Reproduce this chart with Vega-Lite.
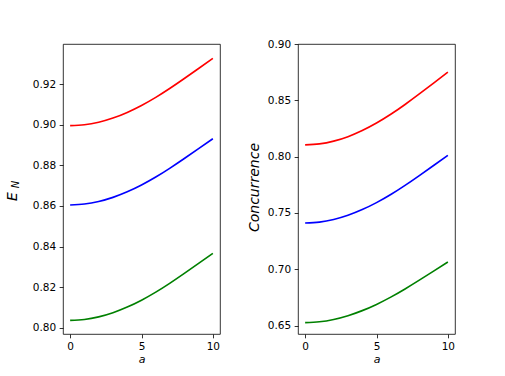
{
  "$schema": "https://vega.github.io/schema/vega-lite/v6.json",
  "autosize": {"type": "pad"},
  "padding": {"left": 4, "top": 38, "right": 5, "bottom": 5},
  "background": "white",
  "bounds": "flush",
  "spacing": 78,
  "config": {
    "font": "DejaVu Sans",
    "view": {"stroke": "#000000", "strokeWidth": 0.8},
    "axis": {
      "domain": false,
      "grid": false,
      "tickColor": "#000000",
      "tickSize": 3.85,
      "tickWidth": 0.8,
      "labelColor": "#000000",
      "labelFont": "DejaVu Sans",
      "labelFontSize": 10.5,
      "labelPadding": 3.5,
      "titleFont": "DejaVu Sans",
      "titleFontWeight": "normal",
      "titleColor": "#000000"
    }
  },
  "datasets": {
    "en": [
      {"a": 0, "series": "s1", "value": 0.89950}, {"a": 1, "series": "s1", "value": 0.89996}, {"a": 2, "series": "s1", "value": 0.90122}, {"a": 3, "series": "s1", "value": 0.90327}, {"a": 4, "series": "s1", "value": 0.90605}, {"a": 5, "series": "s1", "value": 0.90946}, {"a": 6, "series": "s1", "value": 0.91344}, {"a": 7, "series": "s1", "value": 0.91790}, {"a": 8, "series": "s1", "value": 0.92270}, {"a": 9, "series": "s1", "value": 0.92764}, {"a": 10, "series": "s1", "value": 0.93260},
      {"a": 0, "series": "s2", "value": 0.86050}, {"a": 1, "series": "s2", "value": 0.86096}, {"a": 2, "series": "s2", "value": 0.86220}, {"a": 3, "series": "s2", "value": 0.86422}, {"a": 4, "series": "s2", "value": 0.86695}, {"a": 5, "series": "s2", "value": 0.87031}, {"a": 6, "series": "s2", "value": 0.87422}, {"a": 7, "series": "s2", "value": 0.87863}, {"a": 8, "series": "s2", "value": 0.88335}, {"a": 9, "series": "s2", "value": 0.88821}, {"a": 10, "series": "s2", "value": 0.89310},
      {"a": 0, "series": "s3", "value": 0.80370}, {"a": 1, "series": "s3", "value": 0.80416}, {"a": 2, "series": "s3", "value": 0.80542}, {"a": 3, "series": "s3", "value": 0.80746}, {"a": 4, "series": "s3", "value": 0.81023}, {"a": 5, "series": "s3", "value": 0.81363}, {"a": 6, "series": "s3", "value": 0.81759}, {"a": 7, "series": "s3", "value": 0.82205}, {"a": 8, "series": "s3", "value": 0.82683}, {"a": 9, "series": "s3", "value": 0.83175}, {"a": 10, "series": "s3", "value": 0.83670}
    ],
    "conc": [
      {"a": 0, "series": "s1", "value": 0.81040}, {"a": 1, "series": "s1", "value": 0.81130}, {"a": 2, "series": "s1", "value": 0.81376}, {"a": 3, "series": "s1", "value": 0.81776}, {"a": 4, "series": "s1", "value": 0.82319}, {"a": 5, "series": "s1", "value": 0.82984}, {"a": 6, "series": "s1", "value": 0.83760}, {"a": 7, "series": "s1", "value": 0.84632}, {"a": 8, "series": "s1", "value": 0.85568}, {"a": 9, "series": "s1", "value": 0.86531}, {"a": 10, "series": "s1", "value": 0.87500},
      {"a": 0, "series": "s2", "value": 0.74110}, {"a": 1, "series": "s2", "value": 0.74194}, {"a": 2, "series": "s2", "value": 0.74423}, {"a": 3, "series": "s2", "value": 0.74795}, {"a": 4, "series": "s2", "value": 0.75300}, {"a": 5, "series": "s2", "value": 0.75919}, {"a": 6, "series": "s2", "value": 0.76640}, {"a": 7, "series": "s2", "value": 0.77452}, {"a": 8, "series": "s2", "value": 0.78323}, {"a": 9, "series": "s2", "value": 0.79219}, {"a": 10, "series": "s2", "value": 0.80120},
      {"a": 0, "series": "s3", "value": 0.65270}, {"a": 1, "series": "s3", "value": 0.65345}, {"a": 2, "series": "s3", "value": 0.65550}, {"a": 3, "series": "s3", "value": 0.65883}, {"a": 4, "series": "s3", "value": 0.66335}, {"a": 5, "series": "s3", "value": 0.66889}, {"a": 6, "series": "s3", "value": 0.67535}, {"a": 7, "series": "s3", "value": 0.68261}, {"a": 8, "series": "s3", "value": 0.69041}, {"a": 9, "series": "s3", "value": 0.69843}, {"a": 10, "series": "s3", "value": 0.70650}
    ]
  },
  "hconcat": [
    {
      "width": 157,
      "height": 290,
      "data": {"name": "en"},
      "layer": [
        {
          "mark": {"type": "line", "strokeWidth": 1.65, "interpolate": "natural"},
          "encoding": {
            "x": {"field": "a", "type": "quantitative", "scale": {"domain": [-0.5, 10.5], "nice": false, "zero": false}, "axis": {"values": [0, 5, 10], "title": "a", "titleFontStyle": "italic", "titleFontSize": 11, "titlePadding": 2}},
            "y": {"field": "value", "type": "quantitative", "scale": {"domain": [0.797, 0.9397], "nice": false, "zero": false}, "axis": {"values": [0.80, 0.82, 0.84, 0.86, 0.88, 0.90, 0.92], "format": ".2f", "title": "E", "titleFontStyle": "italic", "titleFontSize": 14, "titleBaseline": "alphabetic", "titleX": -47, "titleY": 152}},
            "color": {"field": "series", "type": "nominal", "scale": {"domain": ["s1", "s2", "s3"], "range": ["#ff0000", "#0000ff", "#008000"]}, "legend": null}
          }
        },
        {
          "mark": {"type": "rule", "opacity": 0},
          "encoding": {
            "y": {"datum": 0.86, "type": "quantitative", "scale": {"domain": [0.797, 0.9397], "nice": false, "zero": false}, "axis": {"orient": "left", "labels": false, "ticks": false, "domain": false, "title": "N", "titleFontStyle": "italic", "titleFontSize": 10, "titleBaseline": "alphabetic", "titleX": -45, "titleY": 140}}
          }
        }
      ],
      "resolve": {"scale": {"y": "independent"}}
    },
    {
      "width": 157,
      "height": 290,
      "data": {"name": "conc"},
      "mark": {"type": "line", "strokeWidth": 1.65, "interpolate": "natural"},
      "encoding": {
        "x": {"field": "a", "type": "quantitative", "scale": {"domain": [-0.5, 10.5], "nice": false, "zero": false}, "axis": {"values": [0, 5, 10], "title": "a", "titleFontStyle": "italic", "titleFontSize": 11, "titlePadding": 2}},
        "y": {"field": "value", "type": "quantitative", "scale": {"domain": [0.6426, 0.90], "nice": false, "zero": false}, "axis": {"values": [0.65, 0.70, 0.75, 0.80, 0.85, 0.90], "format": ".2f", "title": "Concurrence", "titleFontStyle": "italic", "titleFontSize": 14, "titleBaseline": "alphabetic", "titleX": -39.5, "titleY": 143}},
        "color": {"field": "series", "type": "nominal", "scale": {"domain": ["s1", "s2", "s3"], "range": ["#ff0000", "#0000ff", "#008000"]}, "legend": null}
      }
    }
  ]
}
